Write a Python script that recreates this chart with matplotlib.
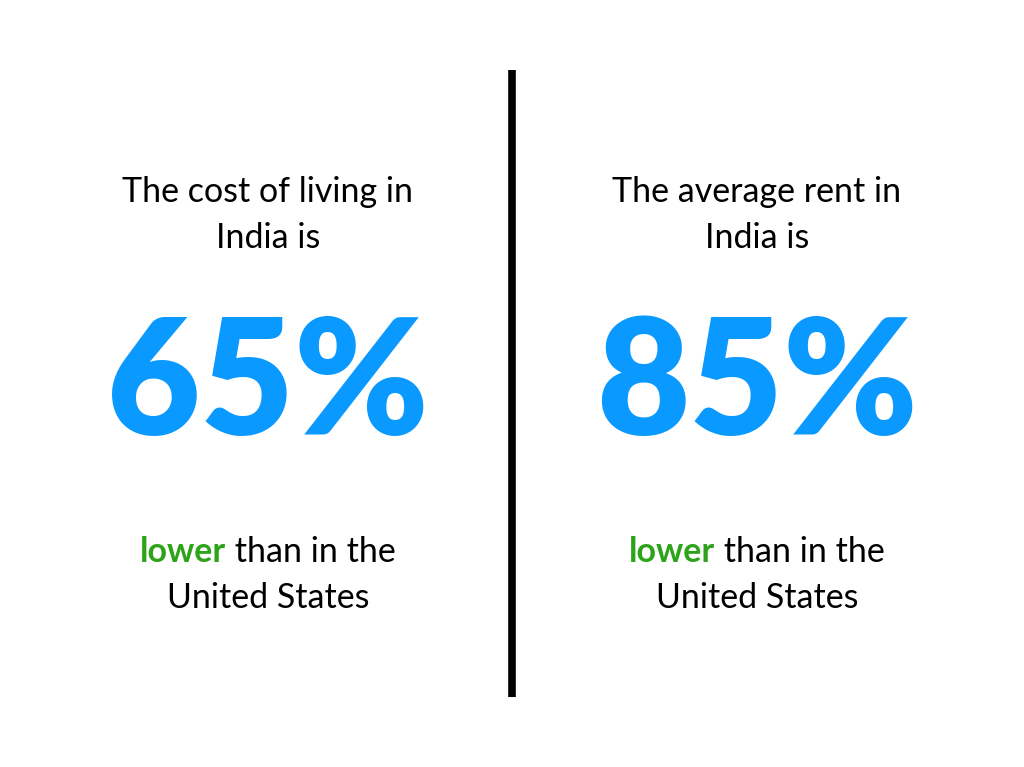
import matplotlib
matplotlib.use("Agg")
import matplotlib.pyplot as plt

top_lines = [["The cost of living in", "India is"], ["The average rent in", "India is"]]
percentages = [65, 85]
highlight_word = "lower"
rest_line1 = " than in the"
line2 = "United States"

fig = plt.figure(figsize=(10.24, 7.67), dpi=100)
ax = fig.add_axes([0, 0, 1, 1])
ax.set_xlim(0, 1024); ax.set_ylim(767, 0); ax.axis("off")

blue = "#0A99FF"; green = "#2CA318"
font = "Lato"
fs = 24.5
ax.plot([512, 512], [70, 697], color="black", lw=5.5, solid_capstyle="butt")

centers = [268, 757]
fig.canvas.draw()
r = fig.canvas.get_renderer()
for cx, lines, p in zip(centers, top_lines, percentages):
    ax.text(cx, 192, lines[0], ha="center", va="center", fontsize=fs, family=font)
    ax.text(cx, 238, lines[1], ha="center", va="center", fontsize=fs, family=font)
    ax.text(cx, 388, f"{p}%", ha="center", va="center", fontsize=116, family=font,
            weight="black", color=blue)
    t1 = ax.text(0, 0, highlight_word, fontsize=fs, family=font, weight="bold")
    t2 = ax.text(0, 0, rest_line1, fontsize=fs, family=font)
    w1 = t1.get_window_extent(r).width; w2 = t2.get_window_extent(r).width
    t1.remove(); t2.remove()
    x0 = cx - (w1 + w2) / 2
    ax.text(x0, 552, highlight_word, ha="left", va="center", fontsize=fs, family=font,
            weight="bold", color=green)
    ax.text(x0 + w1, 552, rest_line1, ha="left", va="center", fontsize=fs, family=font)
    ax.text(cx, 598, line2, ha="center", va="center", fontsize=fs, family=font)

fig.savefig("out.png", dpi=100, facecolor="white")
